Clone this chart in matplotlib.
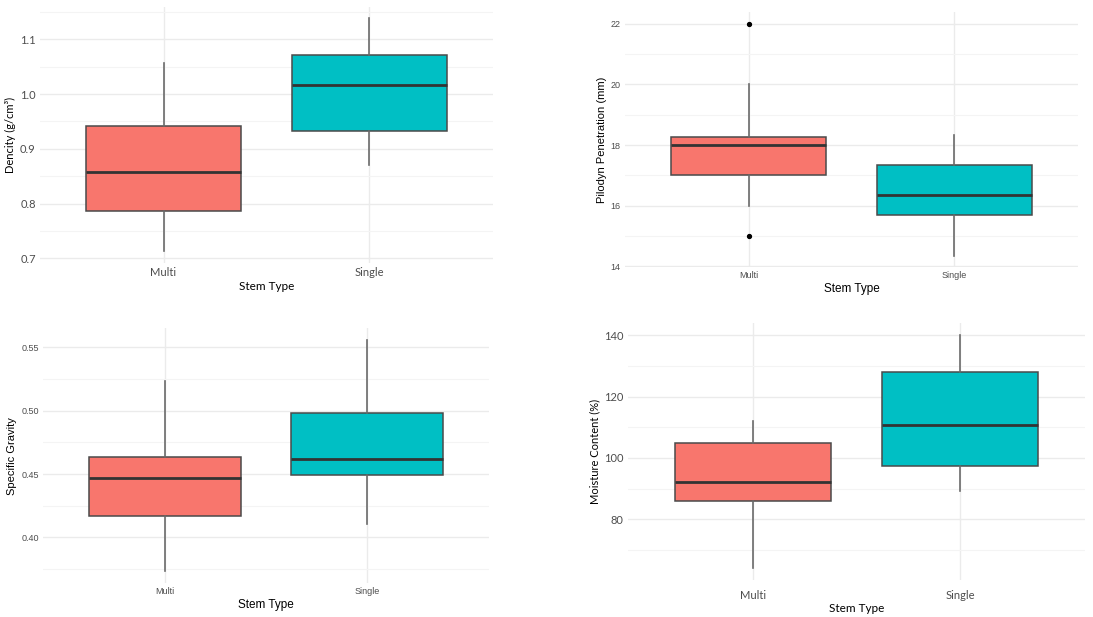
import matplotlib
matplotlib.use("Agg")
import matplotlib.pyplot as plt
from matplotlib.ticker import MultipleLocator

# stem types on the x axis
stem_types = ['Multi', 'Single']

# box stats: whisker low, q1, median, q3, whisker high
density_multi = [0.713, 0.786, 0.857, 0.941, 1.057]
density_single = [0.870, 0.933, 1.017, 1.071, 1.138]

pilodyn_multi = [16.0, 17.0, 18.0, 18.27, 20.0]
pilodyn_single = [14.35, 15.69, 16.34, 17.35, 18.33]
pilodyn_multi_outliers = [15.0, 22.0]
pilodyn_single_outliers = []

gravity_multi = [0.3732, 0.4166, 0.4468, 0.4637, 0.5237]
gravity_single = [0.4105, 0.4489, 0.4621, 0.4982, 0.5558]

moisture_multi = [64.0, 85.9, 92.0, 104.9, 112.1]
moisture_single = [89.3, 97.3, 110.7, 128.0, 140.2]

density_ticks = [0.7, 0.8, 0.9, 1.0, 1.1]
pilodyn_ticks = [14, 16, 18, 20, 22]
gravity_ticks = [0.40, 0.45, 0.50, 0.55]
moisture_ticks = [80, 100, 120, 140]

fill_colors = ['#F8766D', '#00BFC4']


def box_stats(values, fliers):
    lo, q1, med, q3, hi = values
    return {'whislo': lo, 'q1': q1, 'med': med, 'q3': q3, 'whishi': hi, 'fliers': fliers}


def draw_panel(ax, multi, single, ticks, minor, ylabel, fmt, font, tick_size,
               title_size, multi_fliers=None, single_fliers=None, xpad=3):
    stats = [box_stats(multi, multi_fliers or []), box_stats(single, single_fliers or [])]
    bp = ax.bxp(stats, positions=[1, 2], widths=0.75, patch_artist=True,
                showcaps=False, zorder=3,
                boxprops=dict(edgecolor='#4a4a4a', linewidth=1.1),
                whiskerprops=dict(color='#6a6a6a', linewidth=1.2),
                medianprops=dict(color='#333333', linewidth=2.0),
                flierprops=dict(marker='o', markerfacecolor='black',
                                markeredgecolor='black', markersize=2.8))
    for patch, c in zip(bp['boxes'], fill_colors):
        patch.set_facecolor(c)

    # ggplot style expansion
    lo = min(multi[0], single[0], *(multi_fliers or []), *(single_fliers or []))
    hi = max(multi[4], single[4], *(multi_fliers or []), *(single_fliers or []))
    pad = (hi - lo) * 0.05
    ax.set_ylim(lo - pad, hi + pad)
    ax.set_xlim(0.4, 2.6)

    ax.set_yticks(ticks)
    ax.set_yticklabels([fmt.format(t) for t in ticks])
    ax.yaxis.set_minor_locator(MultipleLocator(minor))
    ax.set_xticks([1, 2])
    ax.set_xticklabels(stem_types)

    ax.grid(True, which='major', color='#ebebeb', linewidth=1.0, zorder=0)
    ax.grid(True, which='minor', axis='y', color='#f4f4f4', linewidth=0.8, zorder=0)
    ax.set_axisbelow(True)
    for s in ax.spines.values():
        s.set_visible(False)
    ax.tick_params(which='both', length=0, labelsize=tick_size, labelcolor='#4d4d4d', pad=3)
    ax.tick_params(axis='x', pad=xpad)
    for lab in ax.get_xticklabels() + ax.get_yticklabels():
        lab.set_fontfamily(font)

    ax.set_xlabel('Stem Type', fontsize=title_size, family=font, labelpad=2)
    ax.set_ylabel(ylabel, fontsize=title_size - 0.5, family=font, labelpad=3)


def main():
    fig = plt.figure(figsize=(10.93, 6.17), dpi=100)

    ax1 = fig.add_axes([0.0366, 0.574, 0.4145, 0.415])
    draw_panel(ax1, density_multi, density_single, density_ticks, 0.05,
               'Dencity (g/cm³)', '{:.1f}', 'Lato', 8, 8.5)

    ax2 = fig.add_axes([0.5718, 0.567, 0.4145, 0.413])
    draw_panel(ax2, pilodyn_multi, pilodyn_single, pilodyn_ticks, 1,
               'Pilodyn Penetration (mm)', '{:d}', 'Liberation Sans', 6.5, 8.5,
               pilodyn_multi_outliers, pilodyn_single_outliers)

    ax3 = fig.add_axes([0.0393, 0.055, 0.408, 0.413])
    draw_panel(ax3, gravity_multi, gravity_single, gravity_ticks, 0.025,
               'Specific Gravity', '{:.2f}', 'Liberation Sans', 6.5, 8.5)

    ax4 = fig.add_axes([0.5746, 0.06, 0.418, 0.4165])
    draw_panel(ax4, moisture_multi, moisture_single, moisture_ticks, 10,
               'Moisture Content (%)', '{:d}', 'Lato', 8, 8.5, xpad=7)

    fig.savefig('out.png', dpi=100, facecolor='white')


if __name__ == "__main__":
    main()
